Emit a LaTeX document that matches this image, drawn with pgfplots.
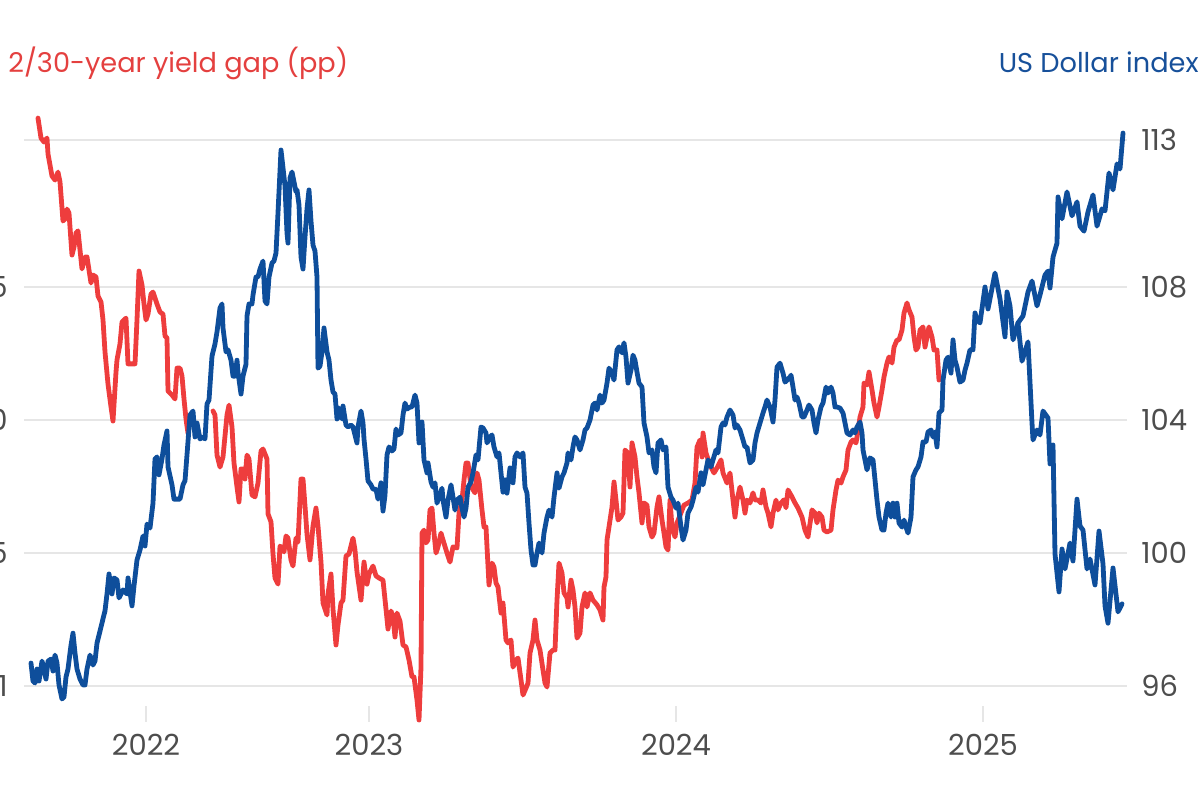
\documentclass[border=0pt]{standalone}
\usepackage{fontspec}
\setmainfont{Poppins}
\usepackage{pgfplots}
\pgfplotsset{compat=1.18}
\usepackage{pgfplotstable}
\definecolor{redline}{HTML}{EE3D3D}
\definecolor{blueline}{HTML}{0E4E9B}
\definecolor{redtitle}{HTML}{E4403F}
\definecolor{bluetitle}{HTML}{17509A}
\definecolor{ticktext}{HTML}{4D4D4D}
\definecolor{gridc}{HTML}{E6E6E6}

\pgfplotstableread[row sep=\\]{
x y\\
38 1.135\\ 41 1.060\\ 44 1.045\\ 47 1.060\\ 48 1.000\\ 52 0.917\\ 55 0.902\\ 58 0.932\\ 60 0.895\\ 63 0.748\\
65 0.756\\ 67 0.793\\ 69 0.778\\ 72 0.620\\ 74 0.650\\ 76 0.703\\ 78 0.711\\ 82 0.568\\ 85 0.613\\ 87 0.613\\
91 0.515\\ 93 0.545\\ 96 0.538\\ 98 0.466\\ 101 0.444\\ 103 0.376\\ 105 0.256\\ 108 0.135\\ 111 0.049\\ 113 -0.004\\
116 0.180\\ 117 0.226\\ 120 0.286\\ 122 0.368\\ 126 0.383\\ 128 0.211\\ 132 0.211\\ 135 0.211\\ 137 0.376\\ 139 0.560\\
142 0.508\\ 144 0.436\\ 146 0.376\\ 148 0.398\\ 151 0.474\\ 153 0.481\\ 157 0.436\\ 160 0.406\\ 163 0.398\\ 165 0.316\\
167 0.308\\ 168 0.109\\ 172 0.094\\ 175 0.079\\ 177 0.195\\ 180 0.195\\ 182 0.165\\ 184 0.079\\ 186 0.004\\ 188 -0.050\\
200 nan\\
213 0.034\\ 215 0.019\\ 217 -0.132\\ 220 -0.177\\ 223 -0.139\\ 227 0.019\\ 229 0.056\\ 232 -0.026\\ 234 -0.162\\ 237 -0.252\\
239 -0.308\\ 241 -0.184\\ 243 -0.184\\ 245 -0.222\\ 247 -0.132\\ 249 -0.147\\ 252 -0.282\\ 255 -0.289\\ 258 -0.237\\ 261 -0.117\\
263 -0.109\\ 267 -0.147\\ 268 -0.353\\ 271 -0.383\\ 273 -0.504\\ 275 -0.594\\ 278 -0.617\\ 280 -0.474\\ 282 -0.481\\ 284 -0.496\\
286 -0.436\\ 288 -0.444\\ 291 -0.526\\ 293 -0.549\\ 296 -0.444\\ 298 -0.459\\ 301 -0.222\\ 303 -0.222\\ 305 -0.323\\ 307 -0.429\\
310 -0.526\\ 313 -0.398\\ 316 -0.331\\ 318 -0.398\\ 321 -0.534\\ 323 -0.688\\ 327 -0.733\\ 328 -0.654\\ 331 -0.579\\ 333 -0.711\\
336 -0.846\\ 338 -0.771\\ 341 -0.688\\ 343 -0.677\\ 346 -0.511\\ 349 -0.504\\ 353 -0.444\\ 355 -0.489\\ 357 -0.571\\ 361 -0.677\\
364 -0.534\\ 367 -0.617\\ 369 -0.579\\ 373 -0.549\\ 376 -0.586\\ 379 -0.594\\ 383 -0.602\\ 386 -0.711\\ 388 -0.786\\ 391 -0.718\\
393 -0.741\\ 395 -0.816\\ 397 -0.726\\ 400 -0.756\\ 403 -0.846\\ 406 -0.853\\ 409 -0.902\\ 412 -0.966\\ 414 -0.966\\ 417 -1.053\\
419 -1.128\\ 421 -0.929\\ 422 -0.425\\ 424 -0.414\\ 426 -0.462\\ 428 -0.451\\ 430 -0.338\\ 432 -0.331\\ 434 -0.425\\ 436 -0.500\\
438 -0.477\\ 441 -0.425\\ 443 -0.451\\ 447 -0.500\\ 450 -0.534\\ 453 -0.477\\ 457 -0.481\\ 459 -0.350\\ 462 -0.301\\ 464 -0.226\\
466 -0.162\\ 468 -0.162\\ 471 -0.250\\ 475 -0.274\\ 477 -0.199\\ 479 -0.226\\ 482 -0.338\\ 484 -0.402\\ 486 -0.402\\ 487 -0.477\\
489 -0.620\\ 492 -0.538\\ 494 -0.553\\ 496 -0.613\\ 498 -0.628\\ 501 -0.726\\ 503 -0.688\\ 506 -0.827\\ 508 -0.838\\ 511 -0.827\\
513 -0.929\\ 516 -0.902\\ 518 -0.895\\ 521 -0.977\\ 523 -1.034\\ 526 -1.008\\ 528 -0.989\\ 530 -0.876\\ 533 -0.827\\ 535 -0.752\\
537 -0.827\\ 540 -0.865\\ 543 -0.940\\ 545 -0.989\\ 547 -1.004\\ 550 -0.876\\ 553 -0.865\\ 555 -0.865\\ 557 -0.677\\ 559 -0.538\\
562 -0.575\\ 564 -0.650\\ 567 -0.669\\ 568 -0.703\\ 571 -0.602\\ 573 -0.639\\ 575 -0.703\\ 577 -0.820\\ 580 -0.801\\ 582 -0.703\\
585 -0.650\\ 587 -0.703\\ 590 -0.650\\ 593 -0.677\\ 597 -0.695\\ 600 -0.714\\ 603 -0.752\\ 604 -0.628\\ 606 -0.590\\ 607 -0.451\\
609 -0.402\\ 612 -0.327\\ 614 -0.233\\ 616 -0.301\\ 618 -0.376\\ 621 -0.365\\ 623 -0.350\\ 625 -0.113\\ 628 -0.124\\ 630 -0.252\\
632 -0.086\\ 635 -0.139\\ 637 -0.214\\ 639 -0.274\\ 642 -0.387\\ 644 -0.312\\ 647 -0.320\\ 649 -0.402\\ 652 -0.440\\ 654 -0.425\\
657 -0.327\\ 659 -0.289\\ 662 -0.376\\ 664 -0.425\\ 666 -0.477\\ 668 -0.489\\ 670 -0.301\\ 672 -0.402\\ 673 -0.414\\ 675 -0.440\\
677 -0.387\\ 684 -0.320\\ 688 -0.312\\ 692 -0.301\\ 695 -0.237\\ 697 -0.102\\ 700 -0.075\\ 702 -0.139\\ 703 -0.049\\ 706 -0.124\\
710 -0.169\\ 714 -0.199\\ 717 -0.180\\ 721 -0.150\\ 723 -0.199\\ 727 -0.237\\ 730 -0.199\\ 733 -0.301\\ 735 -0.365\\ 737 -0.301\\
740 -0.252\\ 743 -0.301\\ 745 -0.350\\ 747 -0.301\\ 750 -0.312\\ 753 -0.274\\ 755 -0.301\\ 758 -0.301\\ 761 -0.312\\ 763 -0.263\\
766 -0.327\\ 768 -0.350\\ 771 -0.402\\ 773 -0.350\\ 776 -0.301\\ 778 -0.338\\ 781 -0.312\\ 784 -0.300\\ 786 -0.330\\ 788 -0.263\\
792 -0.289\\ 795 -0.312\\ 798 -0.331\\ 802 -0.365\\ 805 -0.414\\ 808 -0.440\\ 812 -0.338\\ 815 -0.350\\ 817 -0.387\\ 819 -0.350\\
822 -0.365\\ 824 -0.414\\ 827 -0.421\\ 831 -0.414\\ 833 -0.338\\ 836 -0.263\\ 838 -0.226\\ 841 -0.237\\ 843 -0.214\\ 846 -0.188\\
848 -0.113\\ 851 -0.083\\ 853 -0.075\\ 856 -0.086\\ 857 -0.064\\ 860 0.011\\ 863 0.049\\ 864 0.139\\ 867 0.132\\ 869 0.180\\
872 0.113\\ 874 0.064\\ 877 0.011\\ 879 0.049\\ 882 0.113\\ 884 0.162\\ 887 0.214\\ 889 0.237\\ 892 0.214\\ 894 0.274\\
897 0.301\\ 899 0.301\\ 902 0.338\\ 904 0.402\\ 907 0.440\\ 909 0.414\\ 912 0.387\\ 914 0.312\\ 916 0.263\\ 918 0.274\\
920 0.338\\ 923 0.350\\ 925 0.274\\ 927 0.312\\ 929 0.350\\ 932 0.312\\ 934 0.263\\ 937 0.263\\ 939 0.150\\
}\gaptable

\pgfplotstableread[row sep=\\]{
x y\\
31 96.69\\ 33 96.15\\ 35 96.09\\ 37 96.51\\ 39 96.15\\ 42 96.75\\ 44 96.51\\ 46 96.21\\ 48 96.75\\ 51 96.81\\
53 96.45\\ 55 96.93\\ 57 96.69\\ 59 96.03\\ 62 95.61\\ 64 95.67\\ 66 96.27\\ 68 96.51\\ 71 97.23\\ 73 97.59\\
75 96.99\\ 77 96.51\\ 80 96.21\\ 83 96.03\\ 85 96.03\\ 87 96.51\\ 90 96.93\\ 93 96.63\\ 95 96.75\\ 97 97.29\\
100 97.65\\ 103 98.02\\ 105 98.26\\ 107 98.77\\ 109 99.37\\ 112 98.77\\ 114 99.25\\ 117 99.19\\ 119 98.65\\ 123 98.89\\
127 98.77\\ 128 99.25\\ 132 98.41\\ 134 99.01\\ 137 99.79\\ 140 100.09\\ 143 100.51\\ 145 100.21\\ 147 100.87\\ 150 100.75\\
153 101.50\\ 155 102.83\\ 157 102.89\\ 159 102.35\\ 162 102.83\\ 164 103.25\\ 167 103.67\\ 168 102.59\\ 172 102.05\\ 174 101.62\\
177 101.62\\ 180 101.62\\ 183 102.05\\ 185 102.17\\ 187 102.95\\ 190 104.15\\ 193 104.27\\ 195 103.49\\ 197 103.91\\ 200 103.43\\
203 103.49\\ 205 103.43\\ 207 104.48\\ 209 104.60\\ 212 105.92\\ 215 106.29\\ 217 106.65\\ 220 107.37\\ 222 107.49\\ 223 106.77\\
226 106.05\\ 228 106.11\\ 231 105.80\\ 233 105.32\\ 235 105.32\\ 237 105.80\\ 238 105.44\\ 241 104.78\\ 243 105.32\\ 246 105.68\\
247 107.13\\ 249 107.49\\ 252 107.49\\ 253 107.76\\ 256 108.30\\ 258 108.30\\ 260 108.54\\ 263 108.78\\ 265 107.58\\ 267 107.49\\
269 108.30\\ 272 108.72\\ 274 108.78\\ 276 109.02\\ 278 110.23\\ 281 112.12\\ 283 111.58\\ 285 111.04\\ 287 109.62\\ 288 109.32\\
290 111.28\\ 292 111.46\\ 294 111.16\\ 296 110.86\\ 297 110.92\\ 299 110.47\\ 301 108.90\\ 303 108.54\\ 305 109.50\\ 307 110.35\\
309 110.92\\ 311 109.98\\ 313 109.26\\ 315 109.08\\ 317 108.30\\ 318 105.56\\ 320 105.62\\ 322 106.05\\ 324 106.77\\ 327 106.05\\
329 105.80\\ 331 105.20\\ 333 104.84\\ 335 104.78\\ 337 104.03\\ 339 104.36\\ 342 104.03\\ 343 104.42\\ 346 103.85\\ 348 103.79\\
351 103.85\\ 353 103.79\\ 355 103.55\\ 357 103.31\\ 358 103.79\\ 361 104.27\\ 363 103.91\\ 364 103.43\\ 366 102.83\\ 368 102.17\\
371 102.05\\ 373 101.92\\ 376 101.92\\ 378 101.62\\ 381 102.11\\ 383 101.26\\ 385 101.74\\ 387 102.95\\ 389 103.19\\ 392 103.07\\
394 103.13\\ 396 103.73\\ 398 103.55\\ 401 103.61\\ 403 104.15\\ 405 104.51\\ 407 104.33\\ 410 104.39\\ 412 104.39\\ 415 104.75\\
417 104.51\\ 419 103.31\\ 422 103.94\\ 424 102.80\\ 427 102.41\\ 428 102.71\\ 431 102.14\\ 433 101.98\\ 435 102.11\\ 437 101.50\\
439 101.68\\ 442 101.95\\ 443 101.59\\ 446 101.08\\ 448 101.59\\ 451 102.05\\ 453 101.68\\ 455 101.29\\ 457 101.59\\ 460 101.68\\
462 101.35\\ 464 101.08\\ 466 101.35\\ 468 101.98\\ 471 102.14\\ 473 102.41\\ 476 102.95\\ 478 102.80\\ 481 103.79\\ 483 103.76\\
486 103.61\\ 487 103.31\\ 490 103.49\\ 492 103.55\\ 494 103.19\\ 497 102.89\\ 499 103.01\\ 501 102.41\\ 503 101.83\\ 505 102.20\\
507 101.80\\ 510 102.56\\ 513 102.11\\ 515 102.89\\ 517 103.01\\ 520 102.89\\ 523 103.01\\ 525 101.98\\ 527 101.80\\ 529 100.90\\
531 100.09\\ 533 99.64\\ 535 99.64\\ 537 100.00\\ 539 100.30\\ 542 100.00\\ 544 100.60\\ 547 101.08\\ 549 101.29\\ 552 101.08\\
554 101.68\\ 557 102.41\\ 559 101.95\\ 562 102.29\\ 564 102.41\\ 567 102.71\\ 568 103.01\\ 571 102.80\\ 573 103.19\\ 575 103.49\\
577 103.40\\ 580 103.10\\ 583 103.40\\ 585 103.70\\ 587 103.76\\ 590 104.00\\ 593 104.45\\ 595 104.51\\ 597 104.30\\ 600 104.75\\
602 104.51\\ 604 104.60\\ 607 105.11\\ 609 105.56\\ 612 105.41\\ 614 105.20\\ 617 106.11\\ 619 106.20\\ 622 106.02\\ 624 106.32\\
626 105.89\\ 628 105.11\\ 631 105.50\\ 633 105.95\\ 635 105.80\\ 637 105.44\\ 639 105.11\\ 642 104.99\\ 644 103.91\\ 647 103.49\\
649 103.01\\ 652 103.10\\ 654 102.59\\ 656 102.41\\ 658 103.31\\ 661 103.40\\ 663 103.10\\ 666 103.19\\ 668 101.98\\ 671 101.68\\
673 101.59\\ 676 101.35\\ 678 101.50\\ 681 100.78\\ 683 100.39\\ 686 100.69\\ 688 101.20\\ 691 101.38\\ 693 101.59\\ 696 101.98\\
698 101.83\\ 701 102.41\\ 703 102.05\\ 706 102.50\\ 708 102.80\\ 711 102.59\\ 713 102.80\\ 716 103.10\\ 718 103.01\\ 721 103.79\\
723 103.91\\ 725 103.85\\ 727 104.09\\ 730 104.30\\ 733 104.15\\ 735 103.76\\ 737 103.85\\ 740 103.70\\ 743 103.40\\ 745 103.19\\
747 103.19\\ 750 102.71\\ 753 102.80\\ 755 103.31\\ 757 103.61\\ 760 103.91\\ 763 104.21\\ 765 104.39\\ 767 104.60\\ 770 104.39\\
773 103.94\\ 775 104.60\\ 777 105.59\\ 780 105.71\\ 783 105.41\\ 785 105.14\\ 787 105.20\\ 790 105.29\\ 791 105.35\\ 793 104.99\\
795 104.60\\ 797 104.69\\ 799 104.51\\ 802 104.09\\ 804 104.09\\ 807 104.30\\ 809 104.45\\ 812 104.30\\ 814 103.91\\ 816 103.61\\
818 104.00\\ 821 104.39\\ 823 104.51\\ 826 104.99\\ 828 104.81\\ 831 104.99\\ 833 104.81\\ 835 104.39\\ 837 104.39\\ 840 104.36\\
843 104.21\\ 845 103.91\\ 847 103.61\\ 850 103.55\\ 853 103.70\\ 855 103.61\\ 857 103.79\\ 860 103.94\\ 862 103.61\\ 863 103.10\\
865 102.80\\ 867 102.50\\ 870 102.86\\ 873 102.80\\ 875 102.20\\ 877 101.59\\ 879 101.08\\ 882 100.69\\ 884 100.69\\ 886 101.20\\
888 101.50\\ 891 101.08\\ 893 101.50\\ 895 101.08\\ 897 101.50\\ 899 100.90\\ 902 100.78\\ 904 100.99\\ 906 100.78\\ 908 100.60\\
911 101.08\\ 913 102.29\\ 916 102.50\\ 918 102.59\\ 921 102.89\\ 923 103.34\\ 926 103.34\\ 928 103.64\\ 931 103.70\\ 933 103.49\\
935 103.64\\ 937 103.19\\ 939 104.21\\ 942 104.30\\ 943 105.20\\ 946 105.80\\ 948 105.89\\ 951 105.41\\ 953 106.41\\ 955 105.80\\
957 105.59\\ 960 105.14\\ 963 105.20\\ 965 105.50\\ 967 105.71\\ 970 106.11\\ 973 106.11\\ 975 107.22\\ 977 107.01\\ 980 106.92\\
985 108.00\\ 988 107.34\\ 995 108.42\\ 1000 107.64\\ 1005 106.50\\ 1007 107.85\\ 1010 107.43\\ 1013 106.41\\ 1018 106.92\\ 1023 107.13\\
1028 107.85\\ 1032 108.18\\ 1037 107.43\\ 1040 107.76\\ 1045 108.36\\ 1048 108.48\\ 1050 107.97\\ 1053 108.90\\ 1057 109.32\\ 1058 110.71\\
1062 110.05\\ 1067 110.86\\ 1072 110.14\\ 1077 110.56\\ 1080 109.83\\ 1084 109.68\\ 1088 110.26\\ 1093 110.77\\ 1097 109.83\\ 1102 110.35\\
1105 110.29\\ 1109 111.43\\ 1113 110.92\\ 1117 111.70\\ 1120 111.55\\ 1123 112.63\\
}\dxytable

\pgfplotstableread[row sep=\\]{
x y\\
1018 106.92\\ 1022 105.77\\ 1028 106.35\\ 1032 103.91\\ 1033 103.40\\ 1037 103.70\\ 1040 103.55\\ 1043 104.27\\ 1048 104.06\\ 1050 102.68\\
1053 103.25\\ 1055 99.97\\ 1059 98.83\\ 1062 100.12\\ 1065 99.52\\ 1070 100.30\\ 1073 99.76\\ 1077 101.62\\ 1080 100.81\\ 1083 100.69\\
1087 99.52\\ 1090 99.82\\ 1095 99.04\\ 1099 100.66\\ 1103 99.67\\ 1105 98.41\\ 1108 97.89\\ 1113 99.55\\ 1118 98.23\\ 1122 98.47\\
}\dxybranch

\pgfplotsset{
  common/.style={
    at={(12pt,39pt)}, anchor=south west, scale only axis,
    width=551.5pt, height=311pt,
    xmin=24, xmax=1127, clip=false,
    axis line style={draw=none},
    ticklabel style={font=\fontsize{14.5}{14.5}\selectfont, text=ticktext},
  },
  series/.style={line width=2.4pt, line join=round, line cap=round},
}

\begin{document}
\begin{tikzpicture}
\begin{axis}[common,
  ymin=-1.13534, ymax=1.20301,
  ytick={-1,-0.5,0,0.5,1.05263},
  yticklabels={-1,-0.5,0,0.5,},
  ymajorgrids, grid style={gridc, line width=0.75pt},
  ytick style={draw=none},
  xtick=\empty,
  yticklabel style={anchor=east, inner sep=0pt, xshift=-8pt},
  unbounded coords=jump,
]
\addplot[redline, series] table[x=x,y=y] {\gaptable};
\end{axis}
\begin{axis}[common,
  ymin=94.91729, ymax=113.62406,
  ytick pos=right, yticklabel pos=right,
  ytick={96,100,104,108,112.421},
  yticklabels={96,100,104,108,113},
  ytick style={draw=none},
  xtick pos=left, xticklabel pos=left,
  xtick={146,369,676,983},
  xticklabels={2022,2023,2024,2025},
  tick align=inside, major tick length=8pt,
  xtick style={gridc, line width=0.75pt},
  yticklabel style={anchor=west, inner sep=0pt, xshift=7pt},
  xticklabel style={anchor=north, inner sep=0pt, yshift=-6pt},
]
\addplot[blueline, series] table[x=x,y=y] {\dxytable};
\addplot[blueline, series] table[x=x,y=y] {\dxybranch};
\end{axis}
\node[anchor=base west, inner sep=0pt, text=redtitle, font=\fontsize{13.6}{13.6}\selectfont] at (4pt,363.5pt) {2/30-year yield gap (pp)};
\node[anchor=base east, inner sep=0pt, text=bluetitle, font=\fontsize{13.6}{13.6}\selectfont] at (599.5pt,363.5pt) {US Dollar index};
\pgfresetboundingbox
\path[use as bounding box] (0,0) rectangle (600pt,400pt);
\end{tikzpicture}
\end{document}
